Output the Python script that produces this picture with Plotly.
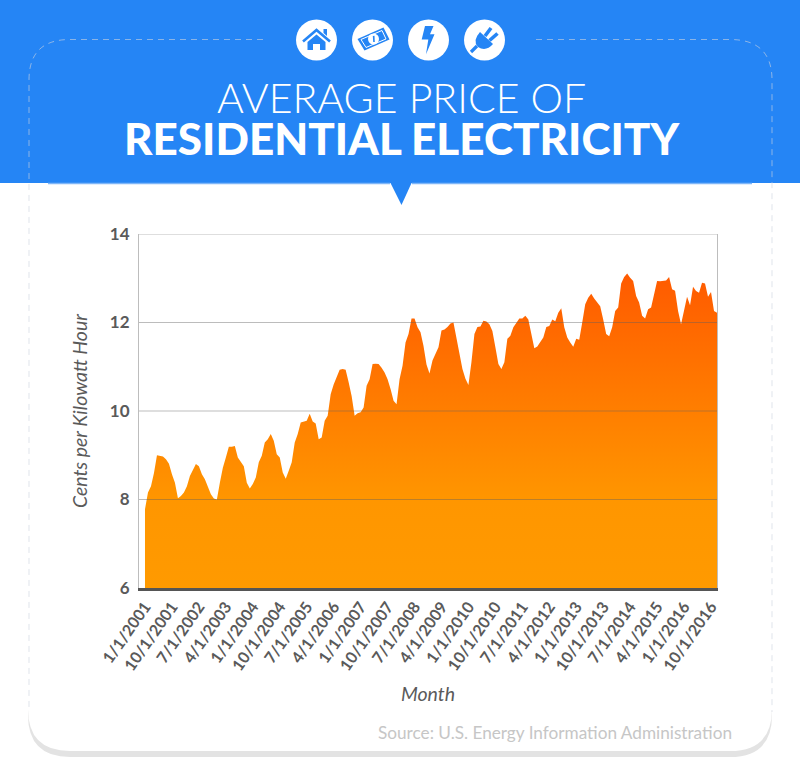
import plotly.graph_objects as go

# ---- data ----
START_YEAR = 2001
prices = [
 7.78,8.16,8.30,8.60,9.00,8.98,8.97,8.91,8.81,8.57,8.38,8.03,
 8.08,8.16,8.30,8.53,8.68,8.80,8.75,8.57,8.46,8.31,8.12,8.02,
 8.00,8.38,8.72,8.95,9.19,9.19,9.21,8.95,8.85,8.75,8.38,8.25,
 8.35,8.50,8.84,8.99,9.29,9.36,9.48,9.33,9.02,8.95,8.61,8.47,
 8.65,8.84,9.29,9.48,9.74,9.76,9.78,9.94,9.76,9.72,9.36,9.40,
 9.78,9.89,10.38,10.60,10.76,10.93,10.95,10.93,10.65,10.34,9.89,9.95,
 9.97,10.08,10.57,10.72,11.06,11.07,11.06,10.98,10.87,10.72,10.50,10.23,
 10.15,10.72,11.02,11.55,11.74,12.09,12.09,11.89,11.78,11.47,11.05,10.85,
 11.14,11.29,11.44,11.82,11.84,11.90,11.98,12.00,11.66,11.29,10.95,10.73,
 10.59,11.10,11.74,11.90,11.91,12.04,12.02,11.96,11.81,11.44,11.06,10.95,
 11.10,11.63,11.70,11.89,12.00,12.09,12.09,12.15,12.07,11.74,11.42,11.46,
 11.55,11.66,11.90,11.92,12.07,12.03,12.22,12.32,11.89,11.66,11.55,11.45,
 11.63,11.61,12.00,12.41,12.56,12.65,12.54,12.46,12.37,12.07,11.74,11.69,
 11.89,12.26,12.34,12.88,13.03,13.11,13.01,12.94,12.60,12.45,12.15,12.09,
 12.30,12.34,12.67,12.94,12.93,12.94,12.95,13.03,12.75,12.72,12.26,11.96,
 12.26,12.58,12.39,12.81,12.71,12.67,12.90,12.88,12.58,12.69,12.26,12.22,
]
months = [f"{i % 12 + 1}/1/{START_YEAR + i // 12}" for i in range(len(prices))]
tick_labels = ["1/1/2001","10/1/2001","7/1/2002","4/1/2003","1/1/2004","10/1/2004",
               "7/1/2005","4/1/2006","1/1/2007","10/1/2007","7/1/2008","4/1/2009",
               "1/1/2010","10/1/2010","7/1/2011","4/1/2012","1/1/2013","10/1/2013",
               "7/1/2014","4/1/2015","1/1/2016","10/1/2016"]
y_ticks = [6, 8, 10, 12, 14]

# ---- page geometry ----
W, H = 800, 783
L, R, T, B = 139, 717, 234, 588
BLUE = "#2585F5"
FONT = "Lato"
def px(x): return (x - L) / (R - L)
def py(y): return (B - y) / (B - T)
def pt(x, y): return f"{px(x):.5f},{py(y):.5f}"
def poly(points, close=True):
    return "M" + " L".join(pt(*p) for p in points) + (" Z" if close else "")
def rrect(x0, y0, x1, y1, r):
    return (f"M{pt(x0+r,y0)} L{pt(x1-r,y0)} Q{pt(x1,y0)} {pt(x1,y0+r)} L{pt(x1,y1-r)} "
            f"Q{pt(x1,y1)} {pt(x1-r,y1)} L{pt(x0+r,y1)} Q{pt(x0,y1)} {pt(x0,y1-r)} "
            f"L{pt(x0,y0+r)} Q{pt(x0,y0)} {pt(x0+r,y0)} Z")

shapes = []
def path(d, fill=None, line=None, width=0, dash=None, layer="below"):
    ln = dict(width=width)
    if line: ln["color"] = line
    if dash: ln["dash"] = dash
    s = dict(type="path", xref="paper", yref="paper", path=d, line=ln, layer=layer)
    if fill: s["fillcolor"] = fill
    shapes.append(s)
def circle(cx, cy, r, fill):
    shapes.append(dict(type="circle", xref="paper", yref="paper", x0=px(cx-r), x1=px(cx+r),
                       y0=py(cy+r), y1=py(cy-r), fillcolor=fill, line=dict(width=0), layer="below"))

# card + shadow
path(rrect(28, 500, 772, 757, 42), fill="#E3E3E3")
path(rrect(28, 400, 772, 751, 42), fill="#FFFFFF")
# header band + pointer
path(poly([(0,0),(800,0),(800,183),(0,183)]), fill=BLUE)
path(poly([(390,182),(412,182),(401.5,205)]), fill=BLUE)
path(poly([(48,183.5),(390,183.5)], close=False), line="#7FB6F8", width=1.5)
path(poly([(412,183.5),(752,183.5)], close=False), line="#7FB6F8", width=1.5)
# dashed outline
dash_col = "rgba(205,212,222,0.62)"
path(f"M{pt(263,39.5)} L{pt(70,39.5)} Q{pt(29,39.5)} {pt(29,80)} L{pt(29,712)}", line=dash_col, width=1, dash="6px,5px")
path(f"M{pt(536,39.5)} L{pt(730,39.5)} Q{pt(772,39.5)} {pt(772,80)} L{pt(772,712)}", line=dash_col, width=1, dash="6px,5px")

# icons
for cx in (316.5, 372.5, 428.5, 484.5):
    circle(cx, 40, 20.5, "#FFFFFF")
# house
path(poly([(303,41.5),(316.5,30),(330,41.5)], close=False), line=BLUE, width=2.6)
path(poly([(323.5,29),(327,29),(327,36),(323.5,33)]), fill=BLUE)
path(poly([(307.5,42),(316.5,34.5),(325.5,42),(325.5,50),(320,50),(320,44),(313,44),(313,50),(307.5,50)]), fill=BLUE)
# banknote
path(poly([(357.5,39),(383.5,27.5),(389.5,39.5),(364.5,50.5)]), fill=BLUE)
path(poly([(361,39.5),(382,30.5),(386,39),(366,47.5)]), line="#FFFFFF", width=1)
circle(373.5, 39, 5.5, "#FFFFFF")
path(poly([(372.8,36),(374.5,35.8),(374.8,42),(373.2,42)]), fill=BLUE)
# bolt
path(poly([(425,26),(433.5,26),(430,34.3),(434.5,34.3),(426,54.3),(428.3,39.5),(421.7,39.5)]), fill=BLUE)
# plug
path(f"M{pt(480,32)} L{pt(493,44)} Q{pt(486,52)} {pt(478,47)} Q{pt(472,41)} {pt(480,32)} Z", fill=BLUE)
path(poly([(485,36),(491,28)], close=False), line=BLUE, width=3.6)
path(poly([(489.5,40.5),(497.5,33.5)], close=False), line=BLUE, width=3.6)
path(poly([(477,46),(471,52)], close=False), line=BLUE, width=3.2)

# gridlines above the fill, taken from the y ticks
for v in y_ticks[1:]:
    shapes.append(dict(type="line", xref="paper", yref="y", x0=0, x1=1, y0=v, y1=v,
                       line=dict(color="rgba(95,95,95,0.42)", width=1), layer="above"))

fig = go.Figure(go.Scatter(
    x=months, y=prices, mode="lines", line=dict(width=0, color="#FF9A00"),
    fill="tozeroy", hoverinfo="skip",
    fillgradient=dict(type="vertical", start=6, stop=13.11,
                      colorscale=[[0, "#FF9A00"], [0.28, "#FF9600"], [1, "#FF5A00"]]),
))

annotations = [
    dict(text="AVERAGE PRICE OF", x=px(401), y=py(97), font=dict(family=FONT, size=41, color="#FFFFFF", weight=300)),
    dict(text="RESIDENTIAL ELECTRICITY", x=px(401.5), y=py(138.5), font=dict(family=FONT, size=44, color="#FFFFFF", weight=900)),
    dict(text="Source: U.S. Energy Information Administration", x=px(734), y=py(732), xanchor="right",
         font=dict(family=FONT, size=17.2, color="#C6C6C6")),
]
for a in annotations:
    a.update(xref="paper", yref="paper", showarrow=False, yanchor="middle")

fig.update_layout(
    width=W, height=H, margin=dict(l=L, r=W-R, t=T, b=H-B),
    paper_bgcolor="#FFFFFF", plot_bgcolor="rgba(0,0,0,0)",
    showlegend=False, shapes=shapes, annotations=annotations,
    font=dict(family=FONT, color="#5A5A5A"),
    xaxis=dict(type="category", categoryorder="array", categoryarray=months,
               range=[-2, len(prices)-1], tickmode="array", tickvals=tick_labels, ticktext=tick_labels,
               tickangle=-55, ticks="", showgrid=False, zeroline=False,
               tickfont=dict(family=FONT, size=16, color="#5A5A5A", weight=700),
               showline=True, linecolor="#555555", linewidth=3, layer="above traces",
               title=dict(text="Month", standoff=15,
                          font=dict(family=FONT, size=19.5, color="#5A5A5A", style="italic"))),
    yaxis=dict(range=[6, 14], tickmode="array", tickvals=y_ticks, ticks="", showgrid=False, zeroline=False,
               ticklabelstandoff=5,
               tickfont=dict(family=FONT, size=17, color="#5A5A5A", weight=700),
               showline=True, mirror=True, linecolor="#BDBDBD", linewidth=1,
               title=dict(text="Cents per Kilowatt Hour", standoff=17,
                          font=dict(family=FONT, size=19.5, color="#5A5A5A", style="italic"))),
)

fig.write_html("out.html", config=dict(displayModeBar=False),
               post_script="document.body.style.margin='0';document.body.style.overflow='hidden';")
